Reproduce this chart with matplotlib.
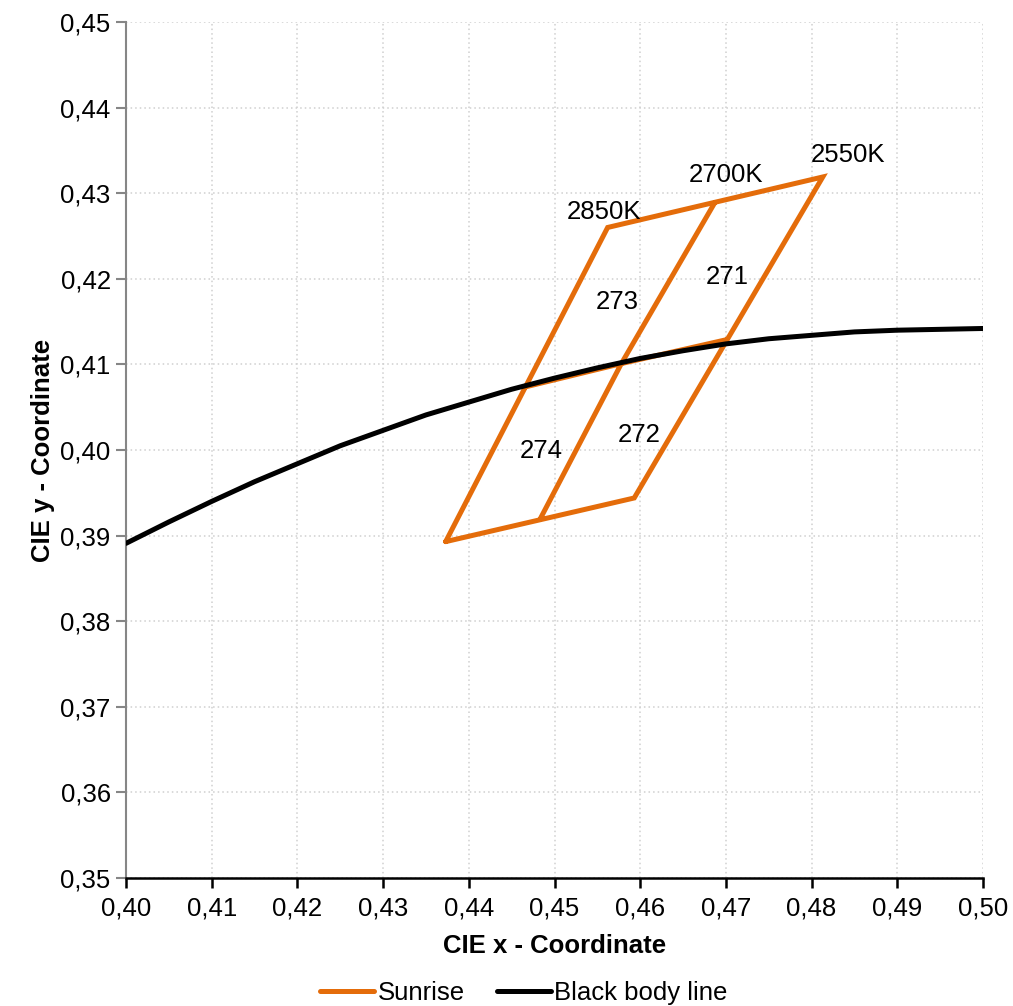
import numpy as np
import matplotlib
matplotlib.use("Agg")
import matplotlib.pyplot as plt

plt.rcParams["font.family"] = ["Liberation Sans", "DejaVu Sans"]

# quadrangle corners of the sunrise bins (CIE x, y)
sunrise_x = [0.4373, 0.4562, 0.4813, 0.4593, 0.4373, np.nan,
             0.4467, 0.4578, 0.4701, np.nan,
             0.4483, 0.4578, 0.4687]
sunrise_y = [0.3893, 0.4260, 0.4319, 0.3944, 0.3893, np.nan,
             0.4074, 0.4101, 0.4129, np.nan,
             0.3919, 0.4101, 0.4289]

# black body line
bbl_x = [0.400, 0.405, 0.410, 0.415, 0.420, 0.425, 0.430, 0.435, 0.440, 0.445,
         0.450, 0.455, 0.460, 0.465, 0.470, 0.475, 0.480, 0.485, 0.490, 0.495, 0.500]
bbl_y = [0.3891, 0.3916, 0.3940, 0.3963, 0.3984, 0.4005, 0.4023, 0.4041, 0.4056, 0.4071,
         0.4084, 0.4096, 0.4107, 0.4116, 0.4124, 0.4130, 0.4134, 0.4138, 0.4140, 0.4141, 0.4142]

cct_labels = ["2850K", "2700K", "2550K"]
cct_x = [0.4558, 0.4700, 0.4843]
cct_y = [0.4278, 0.4321, 0.4345]

bin_labels = ["273", "271", "274", "272"]
bin_x = [0.4573, 0.4701, 0.4484, 0.4599]
bin_y = [0.4173, 0.4202, 0.3999, 0.4018]

x_ticks = [0.40, 0.41, 0.42, 0.43, 0.44, 0.45, 0.46, 0.47, 0.48, 0.49, 0.50]
y_ticks = [0.35, 0.36, 0.37, 0.38, 0.39, 0.40, 0.41, 0.42, 0.43, 0.44, 0.45]

fs = 18.5
orange = "#E46C0A"

fig = plt.figure(figsize=(10.13, 10.06), dpi=100)
ax = fig.add_axes([0.1244, 0.1272, 0.8460, 0.8509])

ax.plot(sunrise_x, sunrise_y, color=orange, lw=3.6, label="Sunrise", zorder=2,
        solid_joinstyle="miter", solid_capstyle="round")
ax.plot(bbl_x, bbl_y, color="black", lw=3.6, label="Black body line", zorder=3,
        solid_capstyle="round")

for t, x, y in zip(cct_labels, cct_x, cct_y):
    ax.text(x, y, t, fontsize=fs, ha="center", va="center", zorder=4)
for t, x, y in zip(bin_labels, bin_x, bin_y):
    ax.text(x, y, t, fontsize=fs, ha="center", va="center", zorder=4)

ax.set_xlim(0.40, 0.50)
ax.set_ylim(0.35, 0.45)
ax.set_xticks(x_ticks)
ax.set_yticks(y_ticks)
ax.set_xticklabels([f"{v:.2f}".replace(".", ",") for v in x_ticks], fontsize=fs)
ax.set_yticklabels([f"{v:.2f}".replace(".", ",") for v in y_ticks], fontsize=fs)

ax.grid(True, color="#D0D0D0", linestyle=(0, (1, 2)), lw=1.1)
ax.set_axisbelow(True)

for s in ["top", "right"]:
    ax.spines[s].set_visible(False)
ax.spines["left"].set_color("#868686")
ax.spines["left"].set_linewidth(1.5)
ax.spines["bottom"].set_color("black")
ax.spines["bottom"].set_linewidth(1.8)
ax.tick_params(axis="y", direction="out", length=7, width=1.5, color="#868686", pad=4)
ax.tick_params(axis="x", direction="out", length=7, width=1.8, color="black", pad=6)

ax.set_xlabel("CIE x - Coordinate", fontsize=fs, fontweight="bold", labelpad=10)
ax.set_ylabel("CIE y - Coordinate", fontsize=fs, fontweight="bold", labelpad=4)

fig.legend(loc="center", bbox_to_anchor=(0.517, 0.013), ncol=2, frameon=False,
           fontsize=fs, handlelength=2.1, handletextpad=0.15, columnspacing=1.25,
           borderpad=0)

fig.savefig("out.png", dpi=100)
